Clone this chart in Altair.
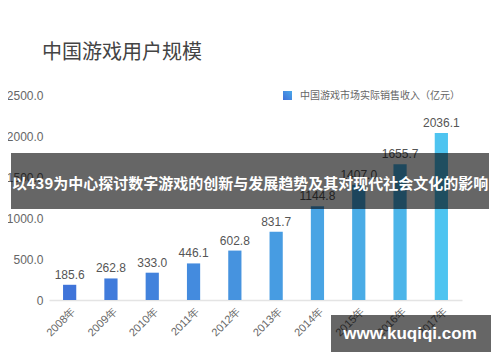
import altair as alt
import pandas as pd

years = ["2008年", "2009年", "2010年", "2011年", "2012年",
         "2013年", "2014年", "2015年", "2016年", "2017年"]
values = [185.6, 262.8, 333.0, 446.1, 602.8, 831.7, 1144.8, 1407.0, 1655.7, 2036.1]
bar_colors = ["#3f74d9", "#407bdb", "#4282dc", "#448bde", "#4693df",
              "#479ce2", "#49a4e4", "#4aace6", "#4cb5e9", "#4ec4f0"]
y_ticks = [0, 500, 1000, 1500, 2000, 2500]

title_text = "中国游戏用户规模"
legend_text = "中国游戏市场实际销售收入（亿元）"
banner_text = "以439为中心探讨数字游戏的创新与发展趋势及其对现代社会文化的影响"
watermark_text = "www.kuqiqi.com"

df = pd.DataFrame({"year": years, "value": values})
one = pd.DataFrame({"k": [0]})

CJK = "Noto Sans CJK SC"
LAT = "Liberation Sans"

x_enc = alt.X(
    "year:N",
    sort=years,
    title=None,
    scale=alt.Scale(paddingInner=0.68, paddingOuter=0.34),
    axis=alt.Axis(
        labelAngle=-45,
        labelFontSize=11,
        labelColor="#666666",
        labelFont=LAT,
        domainColor="#e4e4e4",
        domainWidth=1.5,
        ticks=False,
        tickSize=0,
        labelPadding=5,
        grid=False,
    ),
)
y_enc = alt.Y(
    "value:Q",
    title=None,
    scale=alt.Scale(domain=[0, 2500], nice=False),
    axis=alt.Axis(
        values=y_ticks,
        labelExpr="datum.value == 0 ? '0' : format(datum.value, '.1f')",
        labelFontSize=12,
        labelColor="#666666",
        labelFont=LAT,
        domain=False,
        ticks=False,
        tickSize=0,
        labelPadding=6,
        grid=False,
    ),
)

bars = alt.Chart(df).mark_bar().encode(
    x=x_enc,
    y=y_enc,
    color=alt.Color("year:N", scale=alt.Scale(domain=years, range=bar_colors), legend=None),
)

labels = alt.Chart(df).mark_text(
    baseline="bottom", dy=-3, fontSize=12, color="#555555", font=LAT
).encode(
    x=alt.X("year:N", sort=years),
    y="value:Q",
    text=alt.Text("value:Q", format=".1f"),
)

title = alt.Chart(one).mark_text(
    align="left", baseline="middle", fontSize=20, color="#444444", font=CJK
).encode(x=alt.value(-7), y=alt.value(-42), text=alt.value(title_text))

legend_swatch = alt.Chart(one).mark_rect(
    color=alt.Gradient(
        gradient="linear",
        stops=[alt.GradientStop(color="#3f6fd8", offset=0),
               alt.GradientStop(color="#4aa8ea", offset=1)],
        x1=0, x2=1, y1=1, y2=0,
    )
).encode(x=alt.value(234), x2=alt.value(243), y=alt.value(-4), y2=alt.value(5))

legend_label = alt.Chart(one).mark_text(
    align="left", baseline="middle", fontSize=10, color="#666666", font=CJK
).encode(x=alt.value(251), y=alt.value(1), text=alt.value(legend_text))

banner_rect = alt.Chart(one).mark_rect(color="#000000", opacity=0.6).encode(
    x=alt.value(-38), x2=alt.value(440), y=alt.value(58), y2=alt.value(114)
)
banner_label = alt.Chart(one).mark_text(
    align="center", baseline="middle", fontSize=15, fontWeight="bold",
    color="#ffffff", font=CJK
).encode(x=alt.value(201), y=alt.value(89), text=alt.value(banner_text))

wm_rect = alt.Chart(one).mark_rect(color="#000000", opacity=0.6).encode(
    x=alt.value(282), x2=alt.value(442), y=alt.value(220), y2=alt.value(257)
)
wm_label = alt.Chart(one).mark_text(
    align="center", baseline="middle", fontSize=17, fontWeight="bold",
    color="#ffffff", font=LAT
).encode(x=alt.value(361), y=alt.value(239), text=alt.value(watermark_text))

chart = alt.layer(
    bars, labels, title, legend_swatch, legend_label,
    banner_rect, banner_label, wm_rect, wm_label,
).properties(
    width=413,
    height=205,
    autosize=alt.AutoSizeParams(type="none"),
    padding={"left": 41, "top": 87, "right": 30, "bottom": 54},
    background="#ffffff",
).configure_view(stroke=None)

chart.save("out.html", embed_options={"renderer": "svg", "actions": False})
